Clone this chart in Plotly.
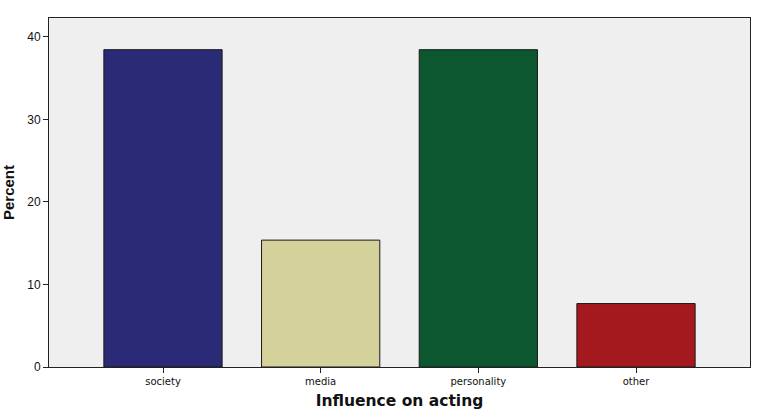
import plotly.graph_objects as go

categories = ["society", "media", "personality", "other"]
percent = [38.46, 15.38, 38.46, 7.69]
bar_colors = ["#2b2a77", "#d4d29a", "#0c5730", "#a4191e"]
y_ticks = [0, 10, 20, 30, 40]

fig = go.Figure()
fig.add_trace(go.Bar(
    x=categories, y=percent,
    marker=dict(color=bar_colors, line=dict(color="#1a1a1a", width=1)),
    width=0.75,
))

fig.update_layout(
    width=758, height=416,
    margin=dict(l=49, r=8, t=18, b=49),
    paper_bgcolor="white",
    plot_bgcolor="#efefef",
    showlegend=False,
    font=dict(family="Liberation Sans, Arial, sans-serif", color="#111"),
    xaxis=dict(
        range=[-0.723, 3.723],
        showline=True, linecolor="#222", linewidth=1, mirror=True,
        ticks="outside", ticklen=5, tickcolor="#222",
        tickfont=dict(size=10, family="DejaVu Sans"),
        title=dict(text="<b>Influence on acting</b>", font=dict(size=15.5, family="DejaVu Sans"), standoff=9),
        showgrid=False,
    ),
    yaxis=dict(
        range=[0, 42.3],
        tickvals=y_ticks,
        showline=True, linecolor="#222", linewidth=1, mirror=True,
        ticks="outside", ticklen=5, tickcolor="#222",
        tickfont=dict(size=12),
        title=dict(text="<b>Percent</b>", font=dict(size=15), standoff=8),
        showgrid=False, zeroline=False,
    ),
)

fig.write_html("out.html")
